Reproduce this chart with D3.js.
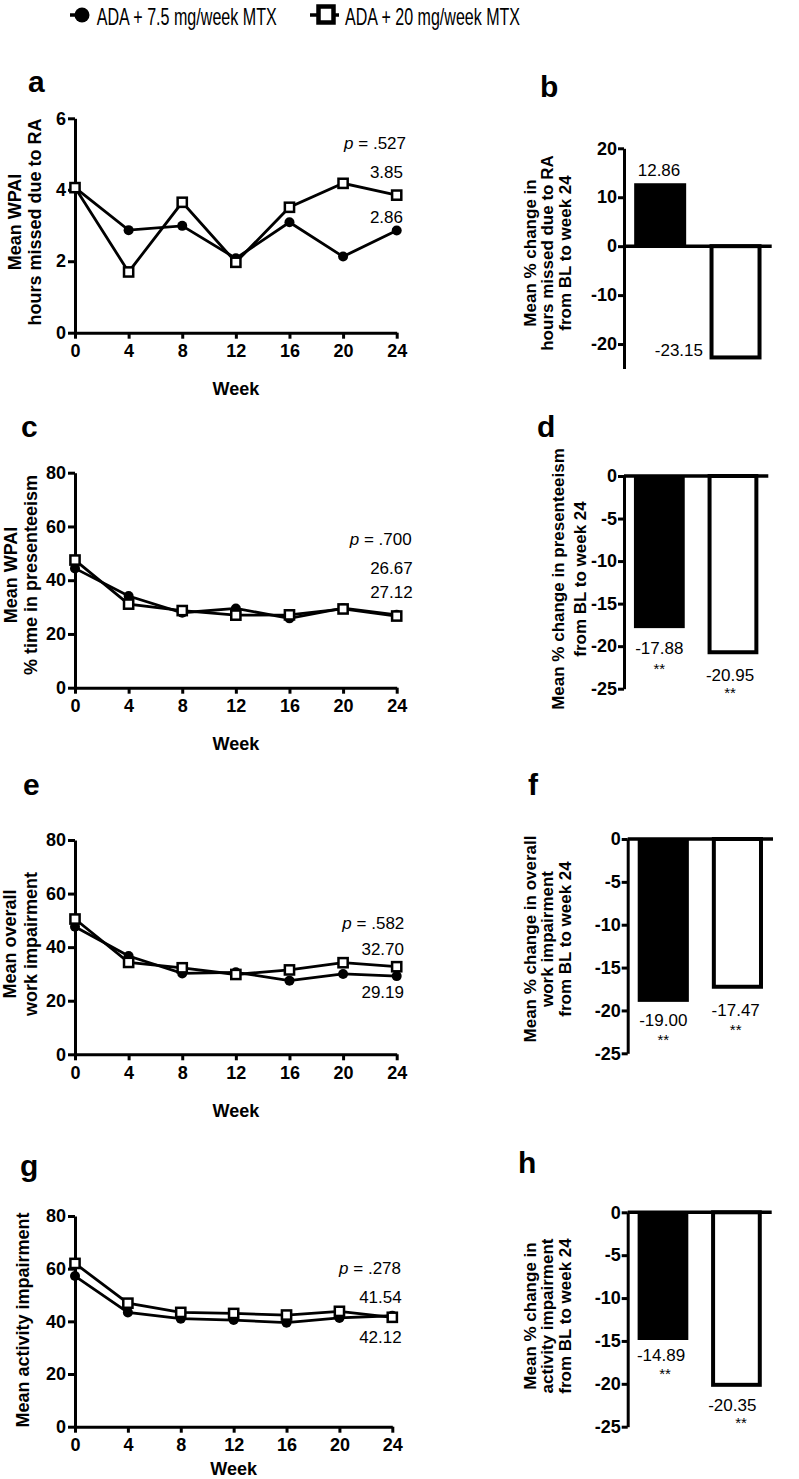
<!DOCTYPE html>
<html>
<head>
<meta charset="utf-8">
<script src="https://cdn.jsdelivr.net/npm/d3@7"></script>
<style>
  body { margin: 0; background: #fff; }
  svg { display: block; font-family: "Liberation Sans", Arial, sans-serif; }
</style>
</head>
<body>
<svg id="chart" width="799" height="1479"></svg>
<script>
'use strict';

// ---- data ----
var weeks = [0, 4, 8, 12, 16, 20, 24];
var seriesNames = ["ADA + 7.5 mg/week MTX", "ADA + 20 mg/week MTX"];

var hoursLow  = [4.06, 2.87, 2.99, 2.08, 3.09, 2.13, 2.86];
var hoursHigh = [4.06, 1.70, 3.65, 1.97, 3.51, 4.18, 3.85];
var presLow   = [44.4, 34.1, 27.9, 29.5, 25.8, 29.6, 27.12];
var presHigh  = [47.5, 31.1, 28.7, 27.0, 27.1, 29.3, 26.67];
var workLow   = [47.6, 36.7, 30.2, 30.6, 27.5, 30.0, 29.19];
var workHigh  = [50.5, 34.3, 32.3, 29.8, 31.5, 34.2, 32.70];
var actLow    = [57.2, 43.4, 41.0, 40.5, 39.5, 41.3, 42.12];
var actHigh   = [62.0, 46.9, 43.4, 43.0, 42.4, 43.8, 41.54];

var hoursChange = [12.86, -23.15];
var presChange  = [-17.88, -20.95];
var workChange  = [-19.00, -17.47];
var actChange   = [-14.89, -20.35];

var pValues = [".527", ".700", ".582", ".278"];

var hoursTicks = [0, 2, 4, 6];
var pctTicks = [0, 20, 40, 60, 80];
var changeTicksB = [20, 10, 0, -10, -20];
var changeTicks = [0, -5, -10, -15, -20, -25];

// ---- panel layout ----
var svg = d3.select("#chart");
svg.append("rect").attr("width", 799).attr("height", 1479).attr("fill", "#fff");

var linePanels = [
  { letter: "a", lx: 28, ly: 92, box: [75, 396.7, 118.3, 332.7], domain: [0, 6], ticks: hoursTicks,
    low: hoursLow, high: hoursHigh, p: pValues[0], title: ["Mean WPAI", "hours missed due to RA"],
    titleX: [21, 41], titleY: 222, weekDy: 62.5,
    notes: [[406, 149], [403, 177.7], [403, 223.3]] },
  { letter: "c", lx: 21, ly: 437, box: [75, 396.7, 472.7, 687.7], domain: [0, 80], ticks: pctTicks,
    low: presLow, high: presHigh, p: pValues[1], title: ["Mean WPAI", "% time in presenteeism"],
    titleX: [17, 37], titleY: 575, weekDy: 62.5,
    notes: [[411.7, 545.3], [412.7, 574.3], [412.7, 597.7]] },
  { letter: "e", lx: 23, ly: 795, box: [75, 396.7, 840, 1054.3], domain: [0, 80], ticks: pctTicks,
    low: workLow, high: workHigh, p: pValues[2], title: ["Mean overall", "work impairment"],
    titleX: [16, 37], titleY: 944, weekDy: 63,
    notes: [[404.3, 928.7], [404, 955.3], [404, 997.7]] },
  { letter: "g", lx: 20, ly: 1175.5, box: [75, 392.3, 1216, 1426.7], domain: [0, 80], ticks: pctTicks,
    low: actLow, high: actHigh, p: pValues[3], title: ["Mean activity impairment"],
    titleX: [29], titleY: 1320, weekDy: 48,
    notes: [[401, 1274.3], [401.7, 1302.7], [401.7, 1342.7]] }
];

var barPanels = [
  { letter: "b", lx: 540, ly: 97, box: [624, 771.7, 148.3, 368.5], domain: [-25, 20], ticks: changeTicksB,
    values: hoursChange, title: ["Mean % change in", "hours missed due to RA", "from BL to week 24"],
    titleX: [535.7, 552.5, 570.5], titleY: 253,
    labels: [[659, 176, "middle"], [703, 356, "end"]], stars: null },
  { letter: "d", lx: 537, ly: 437, box: [624, 768.3, 476, 688.7], domain: [-25, 0], ticks: changeTicks,
    values: presChange, title: ["Mean % change in presenteeism", "from BL to week 24"],
    titleX: [564, 585.7], titleY: 579,
    labels: [[659.3, 654.3, "middle"], [730, 681, "middle"]], stars: [[659.3, 673.5], [730, 698]] },
  { letter: "f", lx: 528, ly: 795, box: [627.7, 773, 839, 1053.3], domain: [-25, 0], ticks: changeTicks,
    values: workChange, title: ["Mean % change in overall", "work impairment", "from BL to week 24"],
    titleX: [535.7, 552.5, 570.5], titleY: 939,
    labels: [[663.3, 1026, "middle"], [735.7, 1016, "middle"]], stars: [[663.3, 1044.5], [735.7, 1035.2]] },
  { letter: "h", lx: 518, ly: 1173, box: [627.7, 771.7, 1212.3, 1426.7], domain: [-25, 0], ticks: changeTicks,
    values: actChange, title: ["Mean % change in", "activity impairment", "from BL to week 24"],
    titleX: [535.7, 552.5, 570.5], titleY: 1316,
    labels: [[661, 1361, "middle"], [732.3, 1411, "middle"]], stars: [[665, 1378.5], [741, 1427.5]] }
];

function styleAxis(g, size) {
  g.selectAll(".domain").attr("stroke", "#000").attr("stroke-width", 3);
  g.selectAll(".tick line").attr("stroke", "#000").attr("stroke-width", 3);
  g.selectAll(".tick text").attr("font-size", size).attr("font-weight", "bold").attr("fill", "#000");
}

function panelLetter(p) {
  svg.append("text").attr("x", p.lx).attr("y", p.ly)
    .attr("font-size", 30).attr("font-weight", "bold").text(p.letter);
}

function rotatedTitle(p, size) {
  p.title.forEach(function (t, i) {
    svg.append("text")
      .attr("transform", "translate(" + p.titleX[i] + "," + p.titleY + ") rotate(-90)")
      .attr("text-anchor", "middle")
      .attr("font-size", size).attr("font-weight", "bold")
      .text(t);
  });
}

function plain(d) { return String(d); }

function drawLine(p) {
  var x = d3.scaleLinear().domain([0, 24]).range([p.box[0], p.box[1]]);
  var y = d3.scaleLinear().domain(p.domain).range([p.box[3], p.box[2]]);

  var gx = svg.append("g").attr("transform", "translate(0," + p.box[3] + ")")
    .call(d3.axisBottom(x).tickValues(weeks).tickSize(6).tickSizeOuter(0).tickPadding(6).tickFormat(plain));
  styleAxis(gx, 18);
  var gy = svg.append("g").attr("transform", "translate(" + p.box[0] + ",0)")
    .call(d3.axisLeft(y).tickValues(p.ticks).tickSize(7).tickSizeOuter(0).tickPadding(2).tickFormat(plain));
  styleAxis(gy, 18);

  var line = d3.line().x(function (d, i) { return x(weeks[i]); }).y(function (d) { return y(d); });
  [p.low, p.high].forEach(function (s) {
    svg.append("path").datum(s).attr("d", line)
      .attr("fill", "none").attr("stroke", "#000").attr("stroke-width", 2.8);
  });
  svg.append("g").selectAll("circle").data(p.low).join("circle")
    .attr("cx", function (d, i) { return x(weeks[i]); })
    .attr("cy", function (d) { return y(d); })
    .attr("r", 5).attr("fill", "#000");
  svg.append("g").selectAll("rect").data(p.high).join("rect")
    .attr("x", function (d, i) { return x(weeks[i]) - 4.6; })
    .attr("y", function (d) { return y(d) - 4.6; })
    .attr("width", 9.2).attr("height", 9.2)
    .attr("fill", "#fff").attr("stroke", "#000").attr("stroke-width", 2.5);

  // annotations
  var pt = svg.append("text").attr("x", p.notes[0][0]).attr("y", p.notes[0][1])
    .attr("text-anchor", "end").attr("font-size", 17);
  pt.append("tspan").attr("font-style", "italic").text("p");
  pt.append("tspan").text(" = " + p.p);
  var last = p.high.length - 1;
  svg.append("text").attr("x", p.notes[1][0]).attr("y", p.notes[1][1])
    .attr("text-anchor", "end").attr("font-size", 17).text(p.high[last].toFixed(2));
  svg.append("text").attr("x", p.notes[2][0]).attr("y", p.notes[2][1])
    .attr("text-anchor", "end").attr("font-size", 17).text(p.low[last].toFixed(2));

  svg.append("text").attr("x", (p.box[0] + p.box[1]) / 2).attr("y", p.box[3] + p.weekDy)
    .attr("text-anchor", "middle").attr("font-size", 18).attr("font-weight", "bold").text("Week");

  rotatedTitle(p, 18);
  panelLetter(p);
}

function drawBar(p) {
  var x = d3.scaleBand().domain([0, 1]).range([p.box[0], p.box[1]])
    .paddingInner(0.31).paddingOuter(0.135);
  var y = d3.scaleLinear().domain(p.domain).range([p.box[3], p.box[2]]);

  // bars
  var v0 = p.values[0], v1 = p.values[1];
  svg.append("rect")
    .attr("x", x(0)).attr("width", x.bandwidth())
    .attr("y", y(Math.max(0, v0))).attr("height", Math.abs(y(v0) - y(0)))
    .attr("fill", "#000");
  svg.append("rect")
    .attr("x", x(1) + 2).attr("width", x.bandwidth() - 4)
    .attr("y", Math.min(y(0), y(v1)) + (v1 > 0 ? 2 : 0))
    .attr("height", Math.abs(y(v1) - y(0)) - 2)
    .attr("fill", "#fff").attr("stroke", "#000").attr("stroke-width", 4);

  var gy = svg.append("g").attr("transform", "translate(" + p.box[0] + ",0)")
    .call(d3.axisLeft(y).tickValues(p.ticks).tickSize(6).tickSizeOuter(0).tickPadding(1).tickFormat(plain));
  styleAxis(gy, 18);
  svg.append("line").attr("x1", p.box[0]).attr("x2", p.box[1])
    .attr("y1", y(0)).attr("y2", y(0)).attr("stroke", "#000").attr("stroke-width", 3.5);

  p.values.forEach(function (v, i) {
    svg.append("text").attr("x", p.labels[i][0]).attr("y", p.labels[i][1])
      .attr("text-anchor", p.labels[i][2]).attr("font-size", 17).text(v.toFixed(2));
    if (p.stars) {
      svg.append("text").attr("x", p.stars[i][0]).attr("y", p.stars[i][1])
        .attr("text-anchor", "middle").attr("font-size", 15).text("**");
    }
  });

  rotatedTitle(p, 17);
  panelLetter(p);
}

linePanels.forEach(drawLine);
barPanels.forEach(drawBar);

// ---- legend ----
var lg = svg.append("g");
lg.append("line").attr("x1", 70).attr("x2", 84).attr("y1", 15).attr("y2", 15)
  .attr("stroke", "#000").attr("stroke-width", 3.5);
lg.append("circle").attr("cx", 82).attr("cy", 15).attr("r", 7.5).attr("fill", "#000");
lg.append("text").attr("x", 96.7).attr("y", 25).attr("font-size", 24)
  .attr("textLength", 180).attr("lengthAdjust", "spacingAndGlyphs").text(seriesNames[0]);

lg.append("line").attr("x1", 310).attr("x2", 339).attr("y1", 15).attr("y2", 15)
  .attr("stroke", "#000").attr("stroke-width", 3.5);
lg.append("rect").attr("x", 318.5).attr("y", 6.5).attr("width", 15).attr("height", 16)
  .attr("fill", "#fff").attr("stroke", "#000").attr("stroke-width", 4.5);
lg.append("text").attr("x", 345).attr("y", 25).attr("font-size", 24)
  .attr("textLength", 175).attr("lengthAdjust", "spacingAndGlyphs").text(seriesNames[1]);
</script>
</body>
</html>
